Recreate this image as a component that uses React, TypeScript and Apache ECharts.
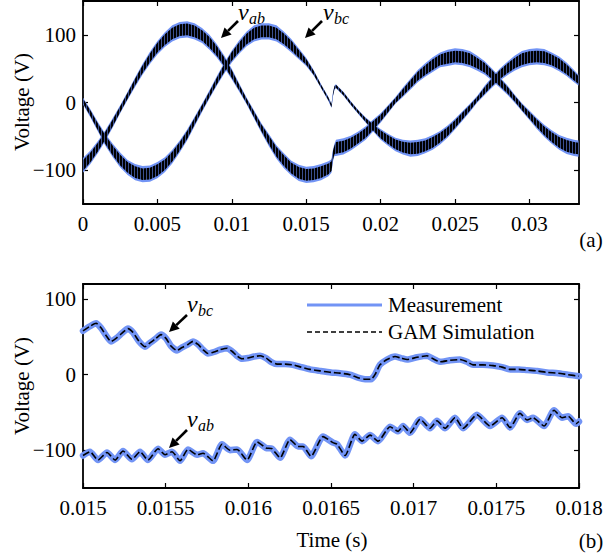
import { useEffect, useRef } from "react";
import * as echarts from "echarts";

// ---- (a) full window: two line-to-line voltages with switching ripple ----
const topTime = [
  0, 0.0005, 0.001, 0.0015, 0.002, 0.0025, 0.003, 0.0035, 0.004, 0.0045,
  0.005, 0.0055, 0.006, 0.0065, 0.007, 0.0075, 0.008, 0.0085, 0.009, 0.0095,
  0.01, 0.0105, 0.011, 0.0115, 0.012, 0.0125, 0.013, 0.0135, 0.014, 0.0145,
  0.015, 0.0155, 0.016, 0.0165, 0.0167, 0.0168, 0.0169, 0.017, 0.0175, 0.018,
  0.0185, 0.019, 0.0195, 0.02, 0.0205, 0.021, 0.0215, 0.022, 0.0225, 0.023,
  0.0235, 0.024, 0.0245, 0.025, 0.0255, 0.026, 0.0265, 0.027, 0.0275, 0.028,
  0.0285, 0.029, 0.0295, 0.03, 0.0305, 0.031, 0.0315, 0.032, 0.0325, 0.033,
  0.0333,
];
const topVab = [
  -93, -81, -66, -49, -30, -10, 10, 30, 49, 66,
  81, 93, 102, 107, 108, 105, 99, 89, 76, 60,
  42, 22, 2, -18, -38, -56, -73, -86, -97, -104,
  -107, -106, -103, -98, -94, -78, -70, -67, -65, -60,
  -53, -45, -34, -23, -10, 3, 15, 27, 39, 48,
  56, 63, 66, 68, 67, 64, 58, 51, 41, 30,
  19, 6, -7, -19, -31, -42, -51, -59, -64, -67,
  -68,
];
const topVbc = [
  2, -16, -36, -55, -71, -85, -96, -103, -106, -105,
  -100, -92, -80, -65, -48, -28, -8, 12, 32, 51,
  68, 82, 94, 102, 105, 105, 102, 94, 84, 72,
  60, 44, 24, 5, -5, 12, 22, 24, 13, -1,
  -14, -26, -37, -47, -55, -62, -66, -68, -67, -64,
  -59, -52, -43, -32, -20, -8, 5, 18, 30, 41,
  50, 58, 64, 67, 68, 67, 63, 57, 49, 39,
  33,
];
// half-height of the ripple band around each curve (V)
const topRippleAb = [
  11, 10, 9, 8, 7, 6, 6, 7, 8, 9,
  10, 11, 12, 12, 12, 12, 11, 11, 10, 9,
  8, 6, 5, 6, 7, 9, 10, 11, 11, 12,
  12, 12, 12, 11, 10, 9, 9, 12, 12, 11,
  10, 10, 9, 7, 6, 5, 7, 8, 9, 10,
  11, 11, 12, 12, 12, 12, 11, 10, 9, 8,
  7, 6, 6, 7, 8, 9, 10, 11, 12, 12,
  12,
];
const topRippleBc = [
  5, 6, 7, 9, 10, 11, 11, 12, 12, 12,
  12, 11, 10, 9, 8, 7, 6, 6, 7, 8,
  9, 10, 11, 12, 12, 12, 12, 11, 10, 8,
  6, 4, 3, 3, 3, 3, 3, 3, 3, 3,
  3, 4, 6, 8, 9, 10, 11, 12, 12, 11,
  11, 10, 9, 8, 7, 6, 5, 7, 8, 9,
  10, 11, 12, 12, 12, 12, 11, 11, 10, 9,
  8,
];

// ---- (b) zoom around the load step ----
const zoomTimeBc = [
  0.015, 0.015042, 0.015079, 0.015109, 0.015139, 0.015169, 0.0152, 0.015236, 0.015272, 0.015302,
  0.015339, 0.015375, 0.015405, 0.015436, 0.015472, 0.015502, 0.015532, 0.015569, 0.015599, 0.015635,
  0.015665, 0.015696, 0.015726, 0.015756, 0.015792, 0.015829, 0.015871, 0.015901, 0.015931, 0.015962,
  0.015998, 0.016034, 0.016071, 0.016107, 0.016137, 0.016173, 0.016222, 0.01627, 0.016319, 0.016373,
  0.016434, 0.0165, 0.016554, 0.016615, 0.016663, 0.016706, 0.016742, 0.016766, 0.016796, 0.016839,
  0.016887, 0.016923, 0.01696, 0.01702, 0.017081, 0.017117, 0.017159, 0.01722, 0.01728, 0.017323,
  0.017359, 0.017419, 0.01748, 0.017534, 0.017583, 0.017637, 0.017686, 0.017746, 0.017806, 0.017873,
  0.017933, 0.018,
];
const zoomVbc = [
  58, 64, 68, 62, 52, 44, 48, 55, 61, 56,
  44, 37, 42, 47, 53, 48, 38, 32, 36, 40,
  44, 40, 33, 28, 30, 33, 35, 31, 25, 21,
  22, 24, 25, 22, 17, 14, 14, 13, 10, 7,
  5, 3, 2, 0, -4, -6, -6, 0, 13, 20,
  24, 22, 20, 23, 25, 21, 17, 19, 20, 17,
  13, 13, 12, 10, 7, 7, 6, 5, 3, 2,
  0, -2,
];
const zoomTimeAb = [
  0.015, 0.015042, 0.015091, 0.015145, 0.015194, 0.015242, 0.015296, 0.015345, 0.015393, 0.015454,
  0.015496, 0.015538, 0.015587, 0.015635, 0.01569, 0.015726, 0.015786, 0.015841, 0.015889, 0.015932,
  0.015992, 0.016053, 0.016107, 0.016143, 0.016192, 0.016252, 0.016301, 0.016331, 0.016379, 0.016452,
  0.016512, 0.016537, 0.016585, 0.016645, 0.016688, 0.016736, 0.016785, 0.016857, 0.016906, 0.016936,
  0.016978, 0.017039, 0.017099, 0.017141, 0.01719, 0.01725, 0.017299, 0.017383, 0.017462, 0.017535,
  0.017583, 0.017643, 0.017686, 0.017722, 0.017789, 0.017849, 0.017898, 0.017934, 0.017982, 0.018,
];
const zoomVab = [
  -107, -102, -113, -103, -113, -101, -112, -102, -113, -98,
  -106, -102, -114, -99, -106, -104, -114, -92, -100, -99,
  -113, -89, -97, -98, -110, -86, -95, -95, -108, -82,
  -90, -92, -107, -79, -88, -80, -88, -69, -75, -68,
  -77, -59, -71, -61, -71, -57, -71, -53, -68, -57,
  -70, -51, -60, -57, -68, -47, -57, -55, -65, -62,
];

const topXTicks = [0, 0.005, 0.01, 0.015, 0.02, 0.025, 0.03];
const zoomXTicks = [0.015, 0.0155, 0.016, 0.0165, 0.017, 0.0175, 0.018];
const voltTicks = [-100, 0, 100];
const legendNames = ["Measurement", "GAM Simulation"];

const FONT = "Liberation Serif, serif";
const BLUE = "#7294f5";
const INK = "#000";

const zip = (t: number[], v: number[]) => t.map((x, i) => [x, v[i]]);
const fmtTime = (v: number) => String(parseFloat(v.toFixed(5)));
const fmtVolt = (v: number) => String(v).replace("-", "\u2212");

// vertical hatching used to fill the dark core of the ripple band
function hatchFill(): any {
  const c = document.createElement("canvas");
  c.width = 3;
  c.height = 4;
  const g = c.getContext("2d");
  if (!g) return "rgba(0,0,0,0.8)";
  g.fillStyle = "#000";
  g.fillRect(0, 0, 2, 4);
  g.fillStyle = "#3a4f8f";
  g.fillRect(2, 0, 1, 4);
  return { image: c, repeat: "repeat" };
}

function bandPolygon(api: any, t: number[], v: number[], r: number[], k: number, fill: any) {
  const upper: number[][] = [];
  const lower: number[][] = [];
  for (let i = 0; i < t.length; i++) {
    upper.push(api.coord([t[i], v[i] + r[i] * k]));
    lower.push(api.coord([t[i], v[i] - r[i] * k]));
  }
  return {
    type: "polygon",
    shape: { points: upper.concat(lower.reverse()) },
    style: { fill },
  };
}

function axesFor(grid: number, min: number, max: number, ticks: number[], fmt: (v: number) => string, dim: "x" | "y") {
  const line = { show: true, onZero: false, lineStyle: { color: INK, width: 1.8 } };
  const tick = { show: true, inside: true, length: 5, customValues: ticks, lineStyle: { color: INK, width: 1.2 } };
  const label = {
    show: true,
    customValues: ticks,
    formatter: fmt,
    fontFamily: FONT,
    fontSize: 21,
    color: INK,
    margin: dim === "x" ? 9 : 7,
  };
  const common = { gridIndex: grid, type: "value", min, max, splitLine: { show: false }, axisLine: line, axisTick: tick };
  return [
    { ...common, position: dim === "x" ? "bottom" : "left", axisLabel: label },
    { ...common, position: dim === "x" ? "top" : "right", axisLabel: { show: false } },
  ];
}

function arrow(tail: number[], tip: number[]) {
  const dx = tip[0] - tail[0];
  const dy = tip[1] - tail[1];
  const len = Math.hypot(dx, dy);
  const ux = dx / len;
  const uy = dy / len;
  const head = 10;
  const half = 5;
  const bx = tip[0] - ux * head;
  const by = tip[1] - uy * head;
  return [
    { type: "line", shape: { x1: tail[0], y1: tail[1], x2: bx, y2: by }, style: { stroke: INK, lineWidth: 2.6 } },
    {
      type: "polygon",
      shape: { points: [tip, [bx - uy * half, by + ux * half], [bx + uy * half, by - ux * half]] },
      style: { fill: INK },
    },
  ];
}

function textStyle(text: string, font: string, align = "left") {
  return { text, font, fill: INK, textAlign: align, textVerticalAlign: "middle", align, verticalAlign: "middle" };
}

function mathLabel(x: number, y: number, sub: string) {
  return [
    { type: "text", x, y, style: textStyle("v", `italic 24px ${FONT}`) },
    { type: "text", x: x + 11, y: y + 6, style: textStyle(sub, `italic 16px ${FONT}`) },
  ];
}

function plainText(x: number, y: number, text: string, rotation = 0, align = "center") {
  return { type: "text", x, y, rotation, style: textStyle(text, `21px ${FONT}`, align) };
}

export default function App() {
  const ref = useRef<HTMLDivElement>(null);

  useEffect(() => {
    if (!ref.current) return;
    const chart = echarts.init(ref.current, null, { renderer: "svg" });
    const hatch = hatchFill();

    const xAxes = [
      ...axesFor(0, 0, 1 / 30, topXTicks, fmtTime, "x"),
      ...axesFor(1, 0.015, 0.018, zoomXTicks, fmtTime, "x"),
    ];
    const yAxes = [
      ...axesFor(0, -150, 150, voltTicks, fmtVolt, "y"),
      ...axesFor(1, -150, 120, voltTicks, fmtVolt, "y"),
    ];

    const measured = (t: number[], v: number[]) => ({
      name: legendNames[0],
      type: "line",
      xAxisIndex: 2,
      yAxisIndex: 2,
      symbol: "none",
      smooth: 0.2,
      data: zip(t, v),
      lineStyle: { color: BLUE, width: 6.5, join: "round", cap: "round" },
    });
    const simulated = (t: number[], v: number[]) => ({
      name: legendNames[1],
      type: "line",
      xAxisIndex: 2,
      yAxisIndex: 2,
      symbol: "none",
      smooth: 0.2,
      data: zip(t, v),
      lineStyle: { color: INK, width: 1.6, type: [7, 3] },
    });

    const option: any = {
      animation: false,
      backgroundColor: "#fff",
      grid: [
        { left: 83, top: 1, width: 496, height: 203 },
        { left: 83, top: 284, width: 496, height: 204 },
      ],
      xAxis: xAxes,
      yAxis: yAxes,
      series: [
        {
          type: "custom",
          xAxisIndex: 0,
          yAxisIndex: 0,
          silent: true,
          data: [[0, 0]],
          encode: { x: 0, y: 1 },
          renderItem: (_p: any, api: any) => ({
            type: "group",
            children: [
              bandPolygon(api, topTime, topVab, topRippleAb, 1, BLUE),
              bandPolygon(api, topTime, topVbc, topRippleBc, 1, BLUE),
            ],
          }),
        },
        {
          type: "custom",
          xAxisIndex: 0,
          yAxisIndex: 0,
          silent: true,
          data: [[0, 0]],
          encode: { x: 0, y: 1 },
          renderItem: (_p: any, api: any) => ({
            type: "group",
            children: [
              bandPolygon(api, topTime, topVab, topRippleAb, 0.72, hatch),
              bandPolygon(api, topTime, topVbc, topRippleBc, 0.72, hatch),
            ],
          }),
        },
        measured(zoomTimeBc, zoomVbc),
        measured(zoomTimeAb, zoomVab),
        simulated(zoomTimeBc, zoomVbc),
        simulated(zoomTimeAb, zoomVab),
      ],
      graphic: [
        plainText(22, 102, "Voltage (V)", Math.PI / 2),
        plainText(22, 386, "Voltage (V)", Math.PI / 2),
        plainText(332, 540, "Time (s)"),
        plainText(591, 240, "(a)"),
        plainText(591, 541, "(b)"),
        // legend of panel (b)
        { type: "line", shape: { x1: 307, y1: 305, x2: 382, y2: 305 }, style: { stroke: BLUE, lineWidth: 3 } },
        { type: "line", shape: { x1: 307, y1: 332, x2: 382, y2: 332 }, style: { stroke: INK, lineWidth: 1.5, lineDash: [5, 3] } },
        plainText(388, 305, legendNames[0], 0, "left"),
        plainText(388, 332, legendNames[1], 0, "left"),
        // curve annotations
        ...mathLabel(238, 12, "ab"),
        ...arrow([238, 21], [221, 38]),
        ...mathLabel(323, 12, "bc"),
        ...arrow([322, 21], [305, 38]),
        ...mathLabel(187, 304, "bc"),
        ...arrow([187, 315], [169, 332]),
        ...mathLabel(187, 419, "ab"),
        ...arrow([187, 430], [169, 448]),
      ],
    };

    chart.setOption(option);
    return () => chart.dispose();
  }, []);

  return (
    <div
      ref={ref}
      style={{ position: "fixed", left: 0, top: 0, width: 608, height: 558, background: "#fff" }}
    />
  );
}
